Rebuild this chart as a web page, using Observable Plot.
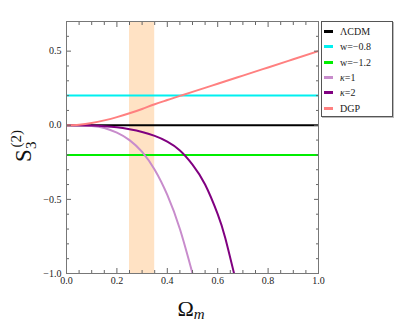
<!DOCTYPE html>
<html>
<head>
<meta charset="utf-8">
<script src="https://cdn.jsdelivr.net/npm/d3@7"></script>
<script src="https://cdn.jsdelivr.net/npm/@observablehq/plot@0.6"></script>
<style>
  body { margin: 0; background: #fff; }
  #wrap { position: relative; width: 400px; height: 325px; }
  #wrap svg, #wrap svg text { font-family: "Liberation Serif", "DejaVu Serif", serif !important; }
  #legend { position: absolute; left: 321px; top: 21px; width: 70px; height: 94px;
    border: 1px solid #555; background: #fff; box-shadow: 1px 1px 0 #bbb;
    font-family: "Liberation Serif", "DejaVu Serif", serif; font-size: 10px; color: #222; }
  .row { position: absolute; left: 0; height: 14px; line-height: 14px; }
  .sw { position: absolute; left: 2px; top: 5px; width: 9px; height: 3px; }
  .lb { position: absolute; left: 18px; top: 0; white-space: nowrap; }
</style>
</head>
<body>
<div id="wrap"></div>
<script>
// ---- data ----
const seriesNames = ["ΛCDM", "w=−0.8", "w=−1.2", "κ=1", "κ=2", "DGP"];
const seriesColors = ["#000000", "#00f0f0", "#00ee00", "#c88ccc", "#800080", "#ff8080"];
const constValues = [0, 0.2, -0.2];           // ΛCDM, w=-0.8, w=-1.2
const omegaK1 = [0, 0.05, 0.1, 0.15, 0.2, 0.25, 0.3, 0.35, 0.4, 0.45, 0.5];
const s3K1 = [0, -0.0005, -0.005, -0.018, -0.05, -0.1, -0.18, -0.3, -0.47, -0.7, -1.0];
const omegaK2 = [0, 0.1, 0.15, 0.2, 0.25, 0.3, 0.35, 0.4, 0.45, 0.5, 0.55, 0.6, 0.63, 0.665];
const s3K2 = [0, -0.002, -0.006, -0.014, -0.027, -0.045, -0.072, -0.11, -0.17, -0.265, -0.4, -0.6, -0.76, -1.0];
const omegaDGP = [0, 0.05, 0.1, 0.15, 0.2, 0.25, 0.3, 0.35, 0.4, 0.45, 0.5, 0.6, 0.7, 0.8, 0.9, 1.0];
const s3DGP = [0, 0.004, 0.015, 0.033, 0.055, 0.081, 0.11, 0.142, 0.17, 0.198, 0.225, 0.28, 0.335, 0.39, 0.445, 0.5];
const bandRange = [0.25, 0.35];
const xMajor = [0, 0.2, 0.4, 0.6, 0.8, 1.0];
const xMinor = [0.05, 0.1, 0.15, 0.25, 0.3, 0.35, 0.45, 0.5, 0.55, 0.65, 0.7, 0.75, 0.85, 0.9, 0.95];
const yMajor = [-1.0, -0.5, 0.0, 0.5];
const yMinor = [-0.9, -0.8, -0.7, -0.6, -0.4, -0.3, -0.2, -0.1, 0.1, 0.2, 0.3, 0.4, 0.6, 0.7];

const k1 = omegaK1.map((x, i) => ({x, y: s3K1[i]}));
const k2 = omegaK2.map((x, i) => ({x, y: s3K2[i]}));
const dgp = omegaDGP.map((x, i) => ({x, y: s3DGP[i]}));

const fmt = d3.format(".1f");
const tickStroke = "#666";
const font = "'Liberation Serif', 'DejaVu Serif', serif";

const chart = Plot.plot({
  width: 400, height: 325,
  marginLeft: 66, marginRight: 82, marginTop: 21, marginBottom: 52,
  style: {fontFamily: font, fontSize: "10px", color: "#222", background: "#fff"},
  x: {domain: [0, 1]},
  y: {domain: [-1, 0.7]},
  marks: [
    Plot.rect([bandRange], {x1: d => d[0], x2: d => d[1], fill: "#ffe2c4"}),
    Plot.ruleY([constValues[0]], {stroke: seriesColors[0], strokeWidth: 2}),
    Plot.ruleY([constValues[1]], {stroke: seriesColors[1], strokeWidth: 2}),
    Plot.ruleY([constValues[2]], {stroke: seriesColors[2], strokeWidth: 2}),
    Plot.line(k1, {x: "x", y: "y", stroke: seriesColors[3], strokeWidth: 2, curve: "natural", clip: true}),
    Plot.line(k2, {x: "x", y: "y", stroke: seriesColors[4], strokeWidth: 2, curve: "natural", clip: true}),
    Plot.line(dgp, {x: "x", y: "y", stroke: seriesColors[5], strokeWidth: 2, curve: "natural", clip: true}),
    // labels
    Plot.axisX({anchor: "bottom", ticks: xMajor, tickSize: 0, tickPadding: 3, tickFormat: fmt, label: null, fill: "#222"}),
    Plot.axisY({anchor: "left", ticks: yMajor, tickSize: 0, tickPadding: 5, tickFormat: fmt, label: null, fill: "#222"}),
    // inward ticks
    ...["bottom", "top"].flatMap(a => [
      Plot.axisX({anchor: a, ticks: xMajor, tickSize: -5, text: null, label: null, stroke: tickStroke}),
      Plot.axisX({anchor: a, ticks: xMinor, tickSize: -3, text: null, label: null, stroke: tickStroke})
    ]),
    ...["left", "right"].flatMap(a => [
      Plot.axisY({anchor: a, ticks: yMajor, tickSize: -5, text: null, label: null, stroke: tickStroke}),
      Plot.axisY({anchor: a, ticks: yMinor, tickSize: -3, text: null, label: null, stroke: tickStroke})
    ]),
    Plot.frame({stroke: "#777"})
  ]
});

const wrap = document.getElementById("wrap");
wrap.appendChild(chart);

// axis titles as SVG text
const svg = d3.select(chart);
const xt = svg.append("text").attr("x", 191).attr("y", 316).attr("text-anchor", "middle")
  .attr("font-family", font).attr("fill", "#111");
xt.append("tspan").attr("font-size", 22).text("Ω");
xt.append("tspan").attr("font-size", 15).attr("font-style", "italic").attr("dy", 3).text("m");

const yt = svg.append("text").attr("transform", "translate(31,146) rotate(-90)")
  .attr("text-anchor", "middle").attr("font-family", font).attr("fill", "#111");
yt.append("tspan").attr("font-size", 23).text("S");
yt.append("tspan").attr("font-size", 15).attr("dy", 5).text("3");
yt.append("tspan").attr("font-size", 15).attr("dx", -6).attr("dy", -15).text("(2)");

// legend
const leg = document.createElement("div");
leg.id = "legend";
seriesNames.forEach((name, i) => {
  const row = document.createElement("div");
  row.className = "row";
  row.style.top = (3 + i * 15.3) + "px";
  row.style.width = "68px";
  const sw = document.createElement("div");
  sw.className = "sw";
  sw.style.background = seriesColors[i];
  const lb = document.createElement("div");
  lb.className = "lb";
  if (name.startsWith("κ")) {
    lb.innerHTML = "<i>κ</i>" + name.slice(1);
  } else {
    lb.textContent = name;
  }
  row.appendChild(sw);
  row.appendChild(lb);
  leg.appendChild(row);
});
wrap.appendChild(leg);
</script>
</body>
</html>
